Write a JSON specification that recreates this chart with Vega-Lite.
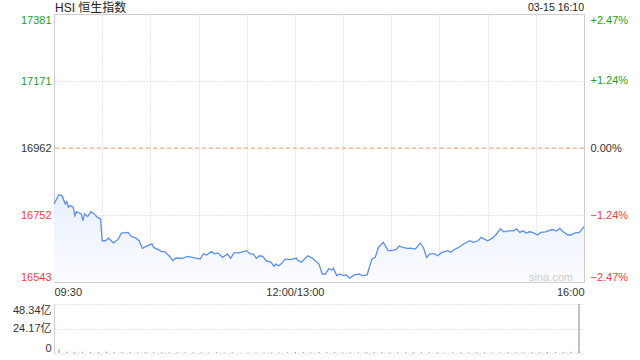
{
  "$schema": "https://vega.github.io/schema/vega-lite/v6.json",
  "background": "white",
  "padding": {"left": 12, "top": 1, "right": 0, "bottom": 0},
  "spacing": 22,
  "bounds": "flush",
  "config": {
    "font": "Liberation Sans, 'Noto Sans CJK SC', sans-serif",
    "view": {"stroke": "#cccccc"},
    "axis": {"labelFont": "Liberation Sans, 'Noto Sans CJK SC', sans-serif", "labelFontSize": 11, "labelOverlap": false, "ticks": false, "title": null, "gridColor": "#cfcfcf", "gridDash": [1, 2]}
  },
  "datasets": {
    "price": [
      {"m": 0, "price": 16787}, {"m": 3, "price": 16816}, {"m": 5, "price": 16813}, {"m": 6, "price": 16800},
      {"m": 7, "price": 16787}, {"m": 8, "price": 16794}, {"m": 9, "price": 16777}, {"m": 10, "price": 16782},
      {"m": 12, "price": 16777}, {"m": 13, "price": 16750}, {"m": 14, "price": 16763}, {"m": 17, "price": 16756},
      {"m": 18, "price": 16735}, {"m": 19, "price": 16756}, {"m": 21, "price": 16748}, {"m": 23, "price": 16763},
      {"m": 25, "price": 16756}, {"m": 27, "price": 16745}, {"m": 29, "price": 16740}, {"m": 30, "price": 16672},
      {"m": 32, "price": 16672}, {"m": 34, "price": 16680}, {"m": 37, "price": 16665}, {"m": 40, "price": 16677},
      {"m": 42, "price": 16696}, {"m": 46, "price": 16698}, {"m": 48, "price": 16686}, {"m": 51, "price": 16680},
      {"m": 53, "price": 16672}, {"m": 55, "price": 16648}, {"m": 58, "price": 16656}, {"m": 61, "price": 16662},
      {"m": 62, "price": 16651}, {"m": 65, "price": 16644}, {"m": 67, "price": 16638}, {"m": 69, "price": 16638},
      {"m": 72, "price": 16623}, {"m": 74, "price": 16610}, {"m": 76, "price": 16618}, {"m": 80, "price": 16617},
      {"m": 83, "price": 16623}, {"m": 86, "price": 16620}, {"m": 89, "price": 16617}, {"m": 91, "price": 16615},
      {"m": 93, "price": 16631}, {"m": 95, "price": 16627}, {"m": 98, "price": 16638}, {"m": 100, "price": 16631},
      {"m": 102, "price": 16634}, {"m": 105, "price": 16620}, {"m": 108, "price": 16631}, {"m": 110, "price": 16617},
      {"m": 112, "price": 16634}, {"m": 115, "price": 16634}, {"m": 118, "price": 16638}, {"m": 120, "price": 16641},
      {"m": 122, "price": 16631}, {"m": 124, "price": 16631}, {"m": 126, "price": 16617}, {"m": 128, "price": 16625},
      {"m": 130, "price": 16623}, {"m": 132, "price": 16610}, {"m": 135, "price": 16605}, {"m": 137, "price": 16592},
      {"m": 138, "price": 16599}, {"m": 140, "price": 16594}, {"m": 142, "price": 16602}, {"m": 144, "price": 16615},
      {"m": 147, "price": 16613}, {"m": 149, "price": 16615}, {"m": 151, "price": 16617}, {"m": 152, "price": 16610},
      {"m": 154, "price": 16605}, {"m": 156, "price": 16615}, {"m": 158, "price": 16625}, {"m": 161, "price": 16617},
      {"m": 165, "price": 16599}, {"m": 167, "price": 16568}, {"m": 169, "price": 16568}, {"m": 171, "price": 16584},
      {"m": 173, "price": 16581}, {"m": 174, "price": 16586}, {"m": 176, "price": 16563}, {"m": 178, "price": 16568},
      {"m": 180, "price": 16563}, {"m": 182, "price": 16565}, {"m": 184, "price": 16555}, {"m": 187, "price": 16565},
      {"m": 190, "price": 16568}, {"m": 192, "price": 16563}, {"m": 195, "price": 16565}, {"m": 196, "price": 16584},
      {"m": 198, "price": 16615}, {"m": 200, "price": 16620}, {"m": 202, "price": 16651}, {"m": 205, "price": 16667},
      {"m": 206, "price": 16659}, {"m": 208, "price": 16641}, {"m": 210, "price": 16641}, {"m": 213, "price": 16644},
      {"m": 215, "price": 16656}, {"m": 217, "price": 16651}, {"m": 220, "price": 16648}, {"m": 222, "price": 16649},
      {"m": 225, "price": 16646}, {"m": 228, "price": 16665}, {"m": 230, "price": 16651}, {"m": 232, "price": 16620},
      {"m": 234, "price": 16631}, {"m": 237, "price": 16631}, {"m": 239, "price": 16625}, {"m": 241, "price": 16634},
      {"m": 245, "price": 16641}, {"m": 247, "price": 16636}, {"m": 249, "price": 16644}, {"m": 252, "price": 16651},
      {"m": 255, "price": 16662}, {"m": 259, "price": 16672}, {"m": 261, "price": 16667}, {"m": 264, "price": 16672},
      {"m": 266, "price": 16683}, {"m": 268, "price": 16677}, {"m": 270, "price": 16672}, {"m": 273, "price": 16680},
      {"m": 275, "price": 16690}, {"m": 278, "price": 16709}, {"m": 280, "price": 16700}, {"m": 283, "price": 16703},
      {"m": 286, "price": 16703}, {"m": 288, "price": 16709}, {"m": 290, "price": 16698}, {"m": 292, "price": 16703},
      {"m": 294, "price": 16696}, {"m": 296, "price": 16700}, {"m": 298, "price": 16698}, {"m": 301, "price": 16690},
      {"m": 303, "price": 16698}, {"m": 306, "price": 16700}, {"m": 310, "price": 16707}, {"m": 313, "price": 16703},
      {"m": 315, "price": 16711}, {"m": 317, "price": 16700}, {"m": 320, "price": 16690}, {"m": 322, "price": 16690},
      {"m": 324, "price": 16696}, {"m": 327, "price": 16698}, {"m": 328, "price": 16703}, {"m": 330, "price": 16716}
    ],
    "volume": [
      {"m": 0, "vol": 4.2}, {"m": 5, "vol": 1.6}, {"m": 10, "vol": 1.3}, {"m": 15, "vol": 1.2}, {"m": 20, "vol": 1.0},
      {"m": 25, "vol": 1.1}, {"m": 30, "vol": 1.4}, {"m": 35, "vol": 1.0}, {"m": 40, "vol": 0.9}, {"m": 45, "vol": 0.9},
      {"m": 50, "vol": 0.8}, {"m": 55, "vol": 0.9}, {"m": 60, "vol": 0.8}, {"m": 65, "vol": 0.8}, {"m": 70, "vol": 0.7},
      {"m": 75, "vol": 0.8}, {"m": 80, "vol": 0.7}, {"m": 85, "vol": 0.7}, {"m": 90, "vol": 0.7}, {"m": 95, "vol": 0.6},
      {"m": 100, "vol": 0.7}, {"m": 105, "vol": 0.6}, {"m": 110, "vol": 0.7}, {"m": 115, "vol": 0.6}, {"m": 120, "vol": 0.6},
      {"m": 125, "vol": 0.6}, {"m": 130, "vol": 0.6}, {"m": 135, "vol": 0.7}, {"m": 140, "vol": 0.6}, {"m": 145, "vol": 0.8},
      {"m": 150, "vol": 1.0}, {"m": 155, "vol": 0.9}, {"m": 160, "vol": 0.8}, {"m": 165, "vol": 0.9}, {"m": 170, "vol": 1.0},
      {"m": 175, "vol": 0.9}, {"m": 180, "vol": 0.8}, {"m": 185, "vol": 0.8}, {"m": 190, "vol": 0.7}, {"m": 195, "vol": 0.9},
      {"m": 200, "vol": 1.1}, {"m": 205, "vol": 1.0}, {"m": 210, "vol": 0.8}, {"m": 215, "vol": 0.7}, {"m": 220, "vol": 0.7},
      {"m": 225, "vol": 0.7}, {"m": 230, "vol": 0.8}, {"m": 235, "vol": 0.7}, {"m": 240, "vol": 0.7}, {"m": 245, "vol": 0.6},
      {"m": 250, "vol": 0.7}, {"m": 255, "vol": 0.8}, {"m": 260, "vol": 0.7}, {"m": 265, "vol": 0.7}, {"m": 270, "vol": 0.7},
      {"m": 275, "vol": 0.8}, {"m": 280, "vol": 0.8}, {"m": 285, "vol": 0.7}, {"m": 290, "vol": 0.7}, {"m": 295, "vol": 0.7},
      {"m": 300, "vol": 0.8}, {"m": 305, "vol": 0.8}, {"m": 310, "vol": 0.9}, {"m": 315, "vol": 0.9}, {"m": 320, "vol": 1.0},
      {"m": 325, "vol": 1.2}, {"m": 330, "vol": 1.8}
    ]
  },
  "vconcat": [
    {
      "width": 530,
      "height": 268,
      "layer": [
        {
          "data": {"name": "price"},
          "layer": [
            {
              "mark": {"type": "area", "fill": {"gradient": "linear", "x1": 0, "y1": 0, "x2": 0, "y2": 1, "stops": [{"offset": 0, "color": "#e8effd"}, {"offset": 1, "color": "#fbfcff"}]}},
              "encoding": {
                "x": {"field": "m", "type": "quantitative", "scale": {"domain": [0, 330], "nice": false, "zero": false},
                  "axis": {"orient": "bottom", "values": [0, 30, 60, 90, 120, 150, 180, 210, 240, 270, 300, 330],
                    "labelExpr": "datum.value == 0 ? '09:30' : datum.value == 150 ? '12:00/13:00' : datum.value == 330 ? '16:00' : ''",
                    "labelFlush": true, "labelPadding": 4, "labelColor": "#333333", "domain": false, "grid": true}},
                "y": {"field": "price", "type": "quantitative", "scale": {"domain": [16543, 17381], "nice": false, "zero": false},
                  "axis": {"orient": "left", "values": [16543, 16752, 16962, 17171, 17381], "format": "d", "labelFlush": true, "labelPadding": 3, "domain": false, "grid": true,
                    "labelColor": {"condition": [{"test": "datum.value > 16962", "value": "#1fa01f"}, {"test": "datum.value < 16962", "value": "#f23c3c"}], "value": "#333333"}}},
                "y2": {"datum": 16543}
              }
            },
            {
              "mark": {"type": "line", "color": "#5b8ff0", "strokeWidth": 1.3},
              "encoding": {
                "x": {"field": "m", "type": "quantitative"},
                "y": {"field": "price", "type": "quantitative"}
              }
            },
            {
              "data": {"values": [{"label": "HSI 恒生指数"}]},
              "mark": {"type": "text", "align": "left", "baseline": "alphabetic", "dx": 1, "dy": -2, "fontSize": 12, "color": "#222222"},
              "encoding": {"x": {"datum": 0}, "y": {"datum": 17381}, "text": {"field": "label"}}
            },
            {
              "data": {"values": [{"label": "03-15 16:10"}]},
              "mark": {"type": "text", "align": "right", "baseline": "alphabetic", "dx": 0, "dy": -3, "fontSize": 10.5, "color": "#222222"},
              "encoding": {"x": {"datum": 330}, "y": {"datum": 17381}, "text": {"field": "label"}}
            },
            {
              "data": {"values": [{"label": "sina.com"}]},
              "mark": {"type": "text", "align": "right", "baseline": "alphabetic", "dx": -11, "dy": -1, "fontSize": 11, "color": "#cccccc"},
              "encoding": {"x": {"datum": 330}, "y": {"datum": 16543}, "text": {"field": "label"}}
            }
          ]
        },
        {
          "data": {"values": [{"pct": 0}]},
          "mark": {"type": "rule", "color": "#f4a070", "strokeDash": [4, 3], "strokeWidth": 1},
          "encoding": {
            "y": {"field": "pct", "type": "quantitative", "scale": {"domain": [-2.47, 2.47], "nice": false, "zero": false},
              "axis": {"orient": "right", "values": [-2.47, -1.24, 0, 1.24, 2.47], "labelFlush": true, "labelPadding": 6, "domain": false, "grid": false,
                "labelExpr": "(datum.value > 0 ? '+' : '') + format(datum.value, '.2f') + '%'",
                "labelColor": {"condition": [{"test": "datum.value > 0", "value": "#1fa01f"}, {"test": "datum.value < 0", "value": "#f23c3c"}], "value": "#333333"}}}
          }
        }
      ],
      "resolve": {"scale": {"y": "independent"}}
    },
    {
      "width": 530,
      "height": 49,
      "view": {"stroke": null},
      "layer": [
        {
          "data": {"name": "volume"},
          "mark": {"type": "bar", "color": "#999999", "width": 1},
          "encoding": {
            "x": {"field": "m", "type": "quantitative", "scale": {"domain": [0, 330], "nice": false, "zero": false}, "axis": null},
            "y": {"field": "vol", "type": "quantitative", "scale": {"domain": [0, 48.34], "nice": false},
              "axis": {"orient": "left", "values": [0, 24.17, 48.34], "labelFlush": true, "labelPadding": 3, "labelColor": "#333333", "domain": true, "domainColor": "#cccccc", "grid": true,
                "labelExpr": "datum.value == 0 ? '0' : format(datum.value, '.2f') + '亿'"}}
          }
        },
        {
          "data": {"values": [{"edge": 330}]},
          "mark": {"type": "rule", "color": "#888888", "strokeWidth": 1},
          "encoding": {"x": {"field": "edge", "type": "quantitative"}}
        }
      ]
    }
  ]
}
